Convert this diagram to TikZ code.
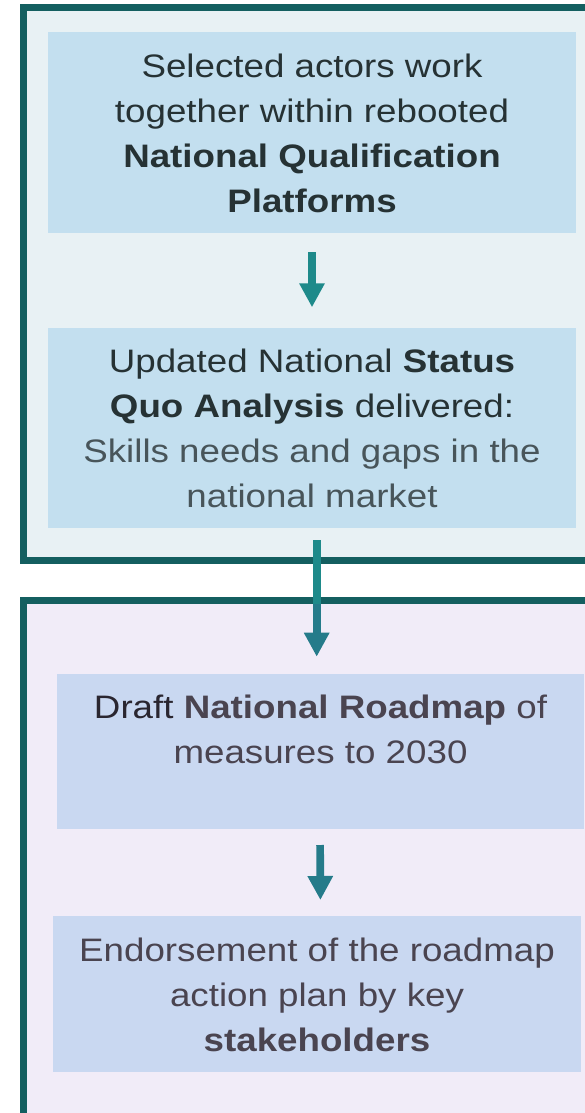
\documentclass[tikz,border=0pt]{standalone}
\usepackage{fontspec}
\setmainfont[FakeStretch=1.13]{Liberation Sans}
\usetikzlibrary{arrows.meta}
\definecolor{frameC}{HTML}{145F60}
\definecolor{topFill}{HTML}{E8F1F4}
\definecolor{boxA}{HTML}{C3DFEF}
\definecolor{botFill}{HTML}{F1ECF8}
\definecolor{boxB}{HTML}{C9D8F1}
\definecolor{txtA}{HTML}{263234}
\definecolor{txtAgrey}{HTML}{48555A}
\definecolor{txtB}{HTML}{4A4450}
\definecolor{txtBdark}{HTML}{2A2630}
\definecolor{arrA}{HTML}{1E8A8A}
\definecolor{arrB}{HTML}{257B8A}
\newcommand{\mytopstrut}{\rule{0pt}{38.5pt}}
\tikzset{
  frame/.style={draw=frameC, line width=7.3pt, anchor=north west, inner sep=0pt, outer sep=0pt},
  stepbox/.style={anchor=north west, inner sep=0pt, outer sep=0pt, align=center,
    font=\fontsize{32.5}{45}\selectfont},
  flowarrow/.style={line width=7.7pt, -{Triangle[width=24pt,length=24pt]}},
}
\begin{document}
\begin{tikzpicture}[x=1pt,y=-1pt]
\useasboundingbox (0,0) rectangle (585,1113);
\clip (0,0) rectangle (585,1113);
% frames
\node[frame, fill=topFill, minimum width=620pt, minimum height=552.6pt] (topframe) at (23.7,7.7) {};
\node[frame, fill=botFill, minimum width=620pt, minimum height=560pt] (botframe) at (23.7,600.7) {};
% boxes
\node[stepbox, fill=boxA, text=txtA, minimum width=528pt, minimum height=200.7pt] (b1) at (48,32)
  {\mytopstrut Selected actors work\\ together within rebooted\\ \textbf{National Qualification}\\ \textbf{Platforms}\strut};
\node[stepbox, fill=boxA, text=txtA, minimum width=528pt, minimum height=200pt] (b2) at (48,327.7)
  {\mytopstrut Updated National \textbf{Status}\\ \textbf{Quo Analysis} delivered:\\ \color{txtAgrey}Skills needs and gaps in the\\ \color{txtAgrey}national market\strut};
\node[stepbox, fill=boxB, text=txtB, minimum width=527pt, minimum height=155.3pt] (b3) at (57,673.7)
  {\mytopstrut\textcolor{txtBdark}{Draft} \textbf{National Roadmap} of\\ measures to 2030\\ \strut};
\node[stepbox, fill=boxB, text=txtB, minimum width=528pt, minimum height=155.7pt] (b4) at (53,916)
  {\mytopstrut Endorsement of the roadmap\\ action plan by key\\ \textbf{stakeholders}\strut};
% arrows
\draw[flowarrow, arrA, shorten <=19.6pt, shorten >=20.4pt] (b1.south) -- (b2.north);
\coordinate (a2s) at ([xshift=4.7pt]b2.south);
\coordinate (a2e) at ([xshift=-3.8pt]b3.north);
\coordinate (a2m) at (a2s |- botframe.north);
\draw[line width=7.7pt, arrA, shorten <=12.3pt] (a2s) -- ([yshift=-3pt]a2m);
\draw[flowarrow, arrB, shorten >=17pt] ([yshift=-3pt]a2m) -- (a2e);
\draw[flowarrow, arrB, shorten <=16pt, shorten >=16pt] ([xshift=-0.5pt]b3.south) -- ([xshift=3.5pt]b4.north);
\end{tikzpicture}
\end{document}
